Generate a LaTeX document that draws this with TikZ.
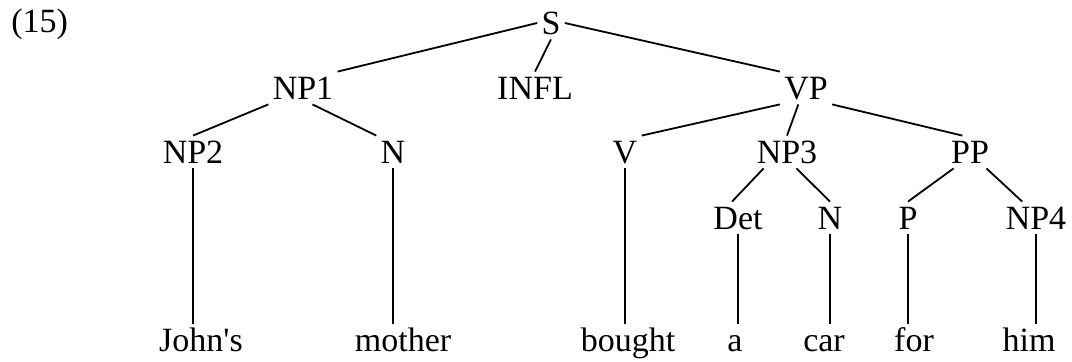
\documentclass[tikz,border=0pt]{standalone}
\usepackage{fontspec}
\setmainfont{Liberation Serif}
\begin{document}
\begin{tikzpicture}[x=0.5pt,y=-0.5pt,
    font=\fontsize{17pt}{20pt}\selectfont,
    cat/.style={anchor=base, inner sep=2pt, text height=12pt, text depth=0pt},
    branch/.style={line width=0.9pt}]
  \useasboundingbox (0,0) rectangle (1072,362);
  \node[anchor=base west, inner sep=0pt] (num) at (11,33) {(15)};
  % categories
  \node[cat] (S) at (551,35) {S};
  \node[cat] (NPone) at (303,100) {NP1};
  \node[cat] (INFL) at (535,100) {INFL};
  \node[cat] (VP) at (806,100) {VP};
  \node[cat] (NPtwo) at (193,164) {NP2};
  \node[cat] (Na) at (393,164) {N};
  \node[cat] (V) at (625,164) {V};
  \node[cat] (NPthree) at (787,164) {NP3};
  \node[cat] (PP) at (970,164) {PP};
  \node[cat] (Det) at (738,230) {Det};
  \node[cat] (Nb) at (830,230) {N};
  \node[cat] (P) at (908,230) {P};
  \node[cat] (NPfour) at (1036,230) {NP4};
  % words
  \node[cat] (johns) at (201,352) {John\textquotesingle s};
  \node[cat] (mother) at (403,352) {mother};
  \node[cat] (bought) at (628,352) {bought};
  \node[cat] (wa) at (735,352) {a};
  \node[cat] (car) at (824,352) {car};
  \node[cat] (wfor) at (914,352) {for};
  \node[cat] (him) at (1029,352) {him};
  % branches
  \draw[branch] (S.west) -- (NPone.north east);
  \draw[branch] (S.south) -- (INFL.north);
  \draw[branch] (S.east) -- (VP.north west);
  \draw[branch] (NPone.south west) -- (NPtwo.north);
  \draw[branch] (NPone.-60) -- (Na.north west);
  \draw[branch] (VP.south west) -- (V.north east);
  \draw[branch] (VP.-115) -- (NPthree.north);
  \draw[branch] (VP.south east) -- (PP.115);
  \draw[branch] (NPthree.-145) -- (Det.110);
  \draw[branch] (NPthree.-60) -- (Nb.north);
  \draw[branch] (PP.-135) -- (P.north);
  \draw[branch] (PP.-45) -- (NPfour.130);
  \foreach \a/\b in {NPtwo/johns, Na/mother, V/bought, Det/wa, Nb/car, P/wfor, NPfour/him}
    \draw[branch] (\a) -- (\a |- \b.north);
\end{tikzpicture}
\end{document}
